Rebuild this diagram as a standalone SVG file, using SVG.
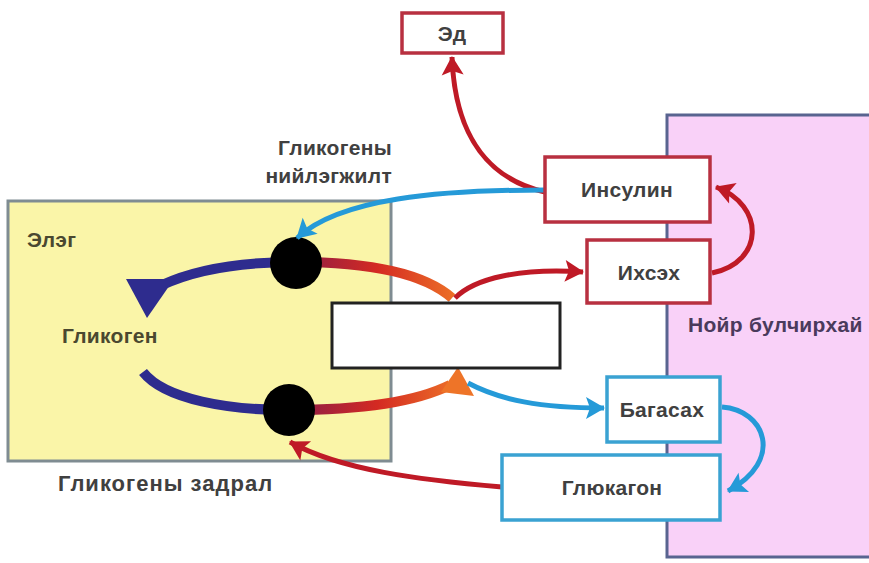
<svg xmlns="http://www.w3.org/2000/svg" width="869" height="563" viewBox="0 0 869 563">
<defs>
<style>
.t{font-family:"Liberation Sans",Arial,sans-serif;font-size:21px;font-weight:bold;fill:#404040;letter-spacing:0.3px;}
.c{text-anchor:middle;}
.rbox{fill:#fff;stroke:#b83040;stroke-width:3.5;}
.bbox{fill:#fff;stroke:#3aa2d2;stroke-width:3.5;}
.ra{fill:none;stroke:#bf1a26;stroke-width:5;}
.ba{fill:none;stroke:#259ad8;stroke-width:5;}
</style>
<linearGradient id="gTop" gradientUnits="userSpaceOnUse" x1="130" y1="0" x2="460" y2="0">
<stop offset="0" stop-color="#2e2c8e"/>
<stop offset="0.42" stop-color="#2e2c8e"/>
<stop offset="0.55" stop-color="#9a2040"/>
<stop offset="0.75" stop-color="#d42a22"/>
<stop offset="1" stop-color="#ee7428"/>
</linearGradient>
<marker id="mr" markerUnits="userSpaceOnUse" markerWidth="24" markerHeight="24" viewBox="0 0 24 24" refX="20" refY="12" orient="auto">
<path d="M2,1 L21,12 L2,23 L6,12 z" fill="#bf1a26"/>
</marker>
<marker id="mb" markerUnits="userSpaceOnUse" markerWidth="24" markerHeight="24" viewBox="0 0 24 24" refX="20" refY="12" orient="auto">
<path d="M2,1 L21,12 L2,23 L6,12 z" fill="#259ad8"/>
</marker>
</defs>
<rect width="869" height="563" fill="#fff"/>
<g id="liver">
<rect x="8" y="201" width="383" height="260" fill="#faf5a8" stroke="#7f8c92" stroke-width="3"/>
<text class="t" x="27" y="247" style="fill:#4a4830">Элэг</text>
<text class="t" x="62" y="343" style="fill:#4a4830">Гликоген</text>
</g>
<g id="pancreas">
<rect x="667" y="115" width="210" height="442" fill="#f9d1f8" stroke="#596490" stroke-width="3"/>
<text class="t" x="688" y="332" style="fill:#4a3a5c">Нойр булчирхай</text>
</g>
<g id="cycle">
<path d="M452,298 C420,270 360,262 295,262 C230,262 190,272 162,285" fill="none" stroke="url(#gTop)" stroke-width="10"/>
<polygon points="126,279 174,279 147,318" fill="#2e2c8e"/>
<path d="M143,372 C165,400 230,410 288,410 C350,410 410,405 450,385" fill="none" stroke="url(#gTop)" stroke-width="10"/>
<polygon points="458,367 474,396 441,392" fill="#ee7428"/>
</g>
<g id="glucose">
<rect x="332" y="303" width="228" height="65" fill="#fff" stroke="#222" stroke-width="3"/>
</g>
<g id="enzyme1"><circle cx="296" cy="263" r="26" fill="#000"/></g>
<g id="enzyme2"><circle cx="289" cy="410" r="26" fill="#000"/></g>
<g id="connectors">
<path class="ra" d="M455,298 C475,278 520,268 583,272" marker-end="url(#mr)"/>
<path class="ba" d="M468,383 C500,400 540,408 604,408" marker-end="url(#mb)"/>
<path class="ba" d="M722,407 C765,410 785,460 728,491" marker-end="url(#mb)"/>
<path class="ra" d="M712,273 C765,262 765,205 716,187" marker-end="url(#mr)"/>
<path class="ra" d="M545,192 C492,180 455,140 452,57" marker-end="url(#mr)"/>
<path class="ba" d="M545,190 C440,190 340,198 297,238" marker-end="url(#mb)"/>
<path class="ra" d="M502,487 C420,480 340,470 290,442" marker-end="url(#mr)"/>
</g>
<g id="ed">
<rect class="rbox" x="402" y="13" width="101" height="40"/>
<text class="t c" x="452" y="41">Эд</text>
</g>
<g id="insulin">
<rect class="rbox" x="545" y="157" width="165" height="65"/>
<text class="t c" x="627" y="197">Инсулин</text>
</g>
<g id="high">
<rect class="rbox" x="587" y="240" width="123" height="63"/>
<text class="t c" x="649" y="280">Ихсэх</text>
</g>
<g id="low">
<rect class="bbox" x="607" y="377" width="113" height="65"/>
<text class="t c" x="662" y="417">Багасах</text>
</g>
<g id="glucagon">
<rect class="bbox" x="502" y="455" width="218" height="65"/>
<text class="t c" x="612" y="495">Глюкагон</text>
</g>
<g id="labels">
<text class="t" x="392" y="155" text-anchor="end">Гликогены</text>
<text class="t" x="392" y="183" text-anchor="end">нийлэгжилт</text>
<text class="t" x="58" y="491" style="font-size:22px;letter-spacing:1px">Гликогены задрал</text>
</g>
</svg>
